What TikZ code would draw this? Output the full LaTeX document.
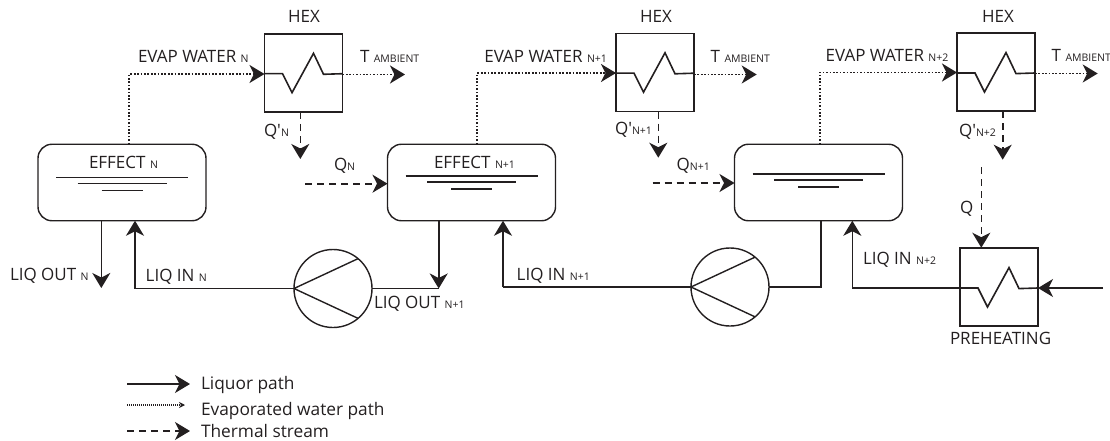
\documentclass[tikz,border=0pt]{standalone}
\usepackage{fontspec}
\setmainfont{Open Sans}
\usetikzlibrary{arrows.meta}
\definecolor{ink}{HTML}{231F20}
\tikzset{
 x=1pt,y=-1pt,
 liq/.style={draw=ink,line width=1.6pt,-{Stealth[length=15pt,width=18pt,inset=4.5pt]}},
 liqplain/.style={draw=ink,line width=1.6pt},
 evap/.style={draw=ink,line width=1.9pt,dash pattern=on 1.7pt off 1.7pt,-{Stealth[length=15pt,width=18pt,inset=4.5pt]}},
 therm/.style={draw=ink,line width=1.6pt,dash pattern=on 7pt off 5pt,-{Stealth[length=15pt,width=18pt,inset=4.5pt]}},
 box/.style={draw=ink,line width=1.6pt,minimum width=78pt,minimum height=78pt,inner sep=0,outer sep=0},
 tank/.style={draw=ink,line width=1.4pt,rounded corners=14pt,minimum width=168pt,minimum height=76.5pt,inner sep=0,outer sep=0},
 pumpc/.style={draw=ink,line width=1.4pt,circle,minimum size=78pt,inner sep=0,outer sep=0},
 blade/.style={draw=ink,line width=1.4pt},
 lab/.style={text=ink,font=\fontsize{17pt}{19pt}\selectfont,inner sep=0,outer sep=0,anchor=base west},
 leg/.style={text=ink,font=\fontsize{17.3pt}{19pt}\selectfont,inner sep=0,outer sep=0,anchor=base west},
 lvl/.style={draw=ink,line width=1.5pt},
}
\newcommand{\sm}[1]{{\fontsize{10.5pt}{11pt}\selectfont #1}}
\begin{document}
\begin{tikzpicture}
\useasboundingbox (0,0) rectangle (1110,441);
% exchangers
\foreach \n/\cx/\cy/\off in {h1/303.5/73/0.7,h2/655/72.7/0.5,h3/996/72.3/0.7,pre/999/286.7/1.3}{
 \node[box] (\n) at (\cx,\cy) {};
 \draw[liqplain] ([yshift=-\off pt]\n.west) -- ++(18,0) -- ++(9.5,19) -- ++(21.5,-39.4) -- ++(10,21) -- ([yshift=-\off pt]\n.east);
}
% tanks
\node[tank] (t1) at (122,182.5) {};
\node[tank] (t2) at (471.5,182.5) {};
\node[tank] (t3) at (818.5,182.5) {};
\foreach \t/\d in {t1/0,t2/-1.5,t3/-3.5}{
 \draw[lvl] ([shift={(-66,\d-5)}]\t.center) -- ++(132,0);
 \draw[lvl] ([shift={(-44.5,\d+1)}]\t.center) -- ++(89,0);
 \draw[lvl] ([shift={(-20.5,\d+8)}]\t.center) -- ++(41,0);
}
% pumps
\node[pumpc] (p1) at (333,288.5) {};
\node[pumpc] (p2) at (730,287) {};
\draw[blade] (p1.50) -- (p1.west) -- (p1.-50);
\draw[blade] (p2.50) -- (p2.west) -- (p2.-50);
% evaporated water
\coordinate (e1) at (129.3,74);
\coordinate (e2) at (477.3,73);
\coordinate (e3) at (819.7,72.5);
\draw[evap] (e1 |- t1.north) -- (e1) -- (h1.west |- e1);
\draw[evap] (e2 |- t2.north) -- (e2) -- (h2.west |- e2);
\draw[evap] (e3 |- t3.north) -- (e3) -- (h3.west |- e3);
\coordinate (o1) at (405,74.5);
\coordinate (o2) at (756.7,74.5);
\coordinate (o3) at (1097.7,73.5);
\draw[evap] (h1.east |- o1) -- (o1);
\draw[evap] (h2.east |- o2) -- (o2);
\draw[evap] (h3.east |- o3) -- (o3);
% thermal
\coordinate (q1) at (300.3,159);
\coordinate (q2) at (658.3,157.7);
\coordinate (q3) at (1002.7,159.7);
\draw[therm] (q1 |- h1.south) -- (q1);
\draw[therm] (q2 |- h2.south) -- (q2);
\draw[therm] (q3 |- h3.south) -- (q3);
\coordinate (qa) at (305,183.7);
\coordinate (qb) at (652.7,183);
\draw[therm] (qa) -- (t2.west |- qa);
\draw[therm] (qb) -- (t3.west |- qb);
\coordinate (qc) at (981.3,167);
\draw[therm] (qc) -- (qc |- pre.north);
% liquor
\coordinate (lo1) at (101.3,288);
\draw[liq] (lo1 |- t1.south) -- (lo1);
\coordinate (li1) at (135,288.5);
\draw[liqplain] (p1.west) -- (li1);
\draw[liq] (li1) -- (li1 |- t1.south);
\coordinate (lo2) at (438.7,288.5);
\draw[liqplain] (p1.east) -- (lo2);
\draw[liq] (lo2 |- t2.south) -- (lo2);
\coordinate (li2) at (503,287);
\draw[liqplain] (p2.west) -- (li2);
\draw[liq] (li2) -- (li2 |- t2.south);
\coordinate (lo3) at (821,287);
\draw[liqplain] (lo3 |- t3.south) -- (lo3) -- (p2.east);
\coordinate (li3) at (852.3,288);
\draw[liqplain] (pre.west |- li3) -- (li3);
\draw[liq] (li3) -- (li3 |- t3.south);
\coordinate (in) at (1103,288);
\draw[liq] (in) -- (pre.east |- in);
% labels
\node[lab] (lh1) at (288,23) {HEX};
\node[lab] (lh2) at (640,23) {HEX};
\node[lab] (lh3) at (982,23) {HEX};
\node[lab] (lw1) at (138,63) {EVAP WATER \sm{N}};
\node[lab] (lw2) at (484.3,63) {EVAP WATER \sm{N+1}};
\node[lab] (lw3) at (825.7,62) {EVAP WATER \sm{N+2}};
\node[lab] (la1) at (360,63) {T \sm{AMBIENT}};
\node[lab] (la2) at (710.7,63) {T \sm{AMBIENT}};
\node[lab] (la3) at (1051.7,62) {T \sm{AMBIENT}};
\node[lab] (lq1) at (264,136.7) {Q′\sm{N}};
\node[lab] (lq2) at (615,135) {Q′\sm{N+1}};
\node[lab] (lq3) at (959,136.7) {Q′\sm{N+2}};
\node[lab] (lqa) at (334,170.7) {Q\sm{N}};
\node[lab] (lqb) at (676.7,170) {Q\sm{N+1}};
\node[lab] (lqc) at (960,213) {Q};
\node[lab] (le1) at (89,168) {EFFECT \sm{N}};
\node[lab] (le2) at (434,168) {EFFECT \sm{N+1}};
\node[lab] (lo1t) at (10,280.7) {LIQ OUT \sm{N}};
\node[lab] (lo2t) at (374,308) {LIQ OUT \sm{N+1}};
\node[lab] (li1t) at (145.7,281) {LIQ IN \sm{N}};
\node[lab] (li2t) at (516.7,280) {LIQ IN \sm{N+1}};
\node[lab] (li3t) at (863,264) {LIQ IN \sm{N+2}};
\node[lab] (lp) at (950,344) {PREHEATING};
% legend
\coordinate (a1) at (127,384);
\coordinate (a2) at (190,384);
\draw[liq] (a1) -- (a2);
\coordinate (b1) at (127,405);
\coordinate (b2) at (185,405);
\draw[draw=ink,line width=1.2pt,dash pattern=on 1pt off 1pt,-{Stealth[length=6pt,width=6pt,inset=2pt]}] (b1) -- (b2);
\coordinate (c1) at (127,431);
\coordinate (c2) at (190,431);
\draw[therm] (c1) -- (c2);
\node[leg] (l1) at (201,389) {Liquor path};
\node[leg] (l2) at (201,415) {Evaporated water path};
\node[leg] (l3) at (201,437.7) {Thermal stream};
\end{tikzpicture}
\end{document}
